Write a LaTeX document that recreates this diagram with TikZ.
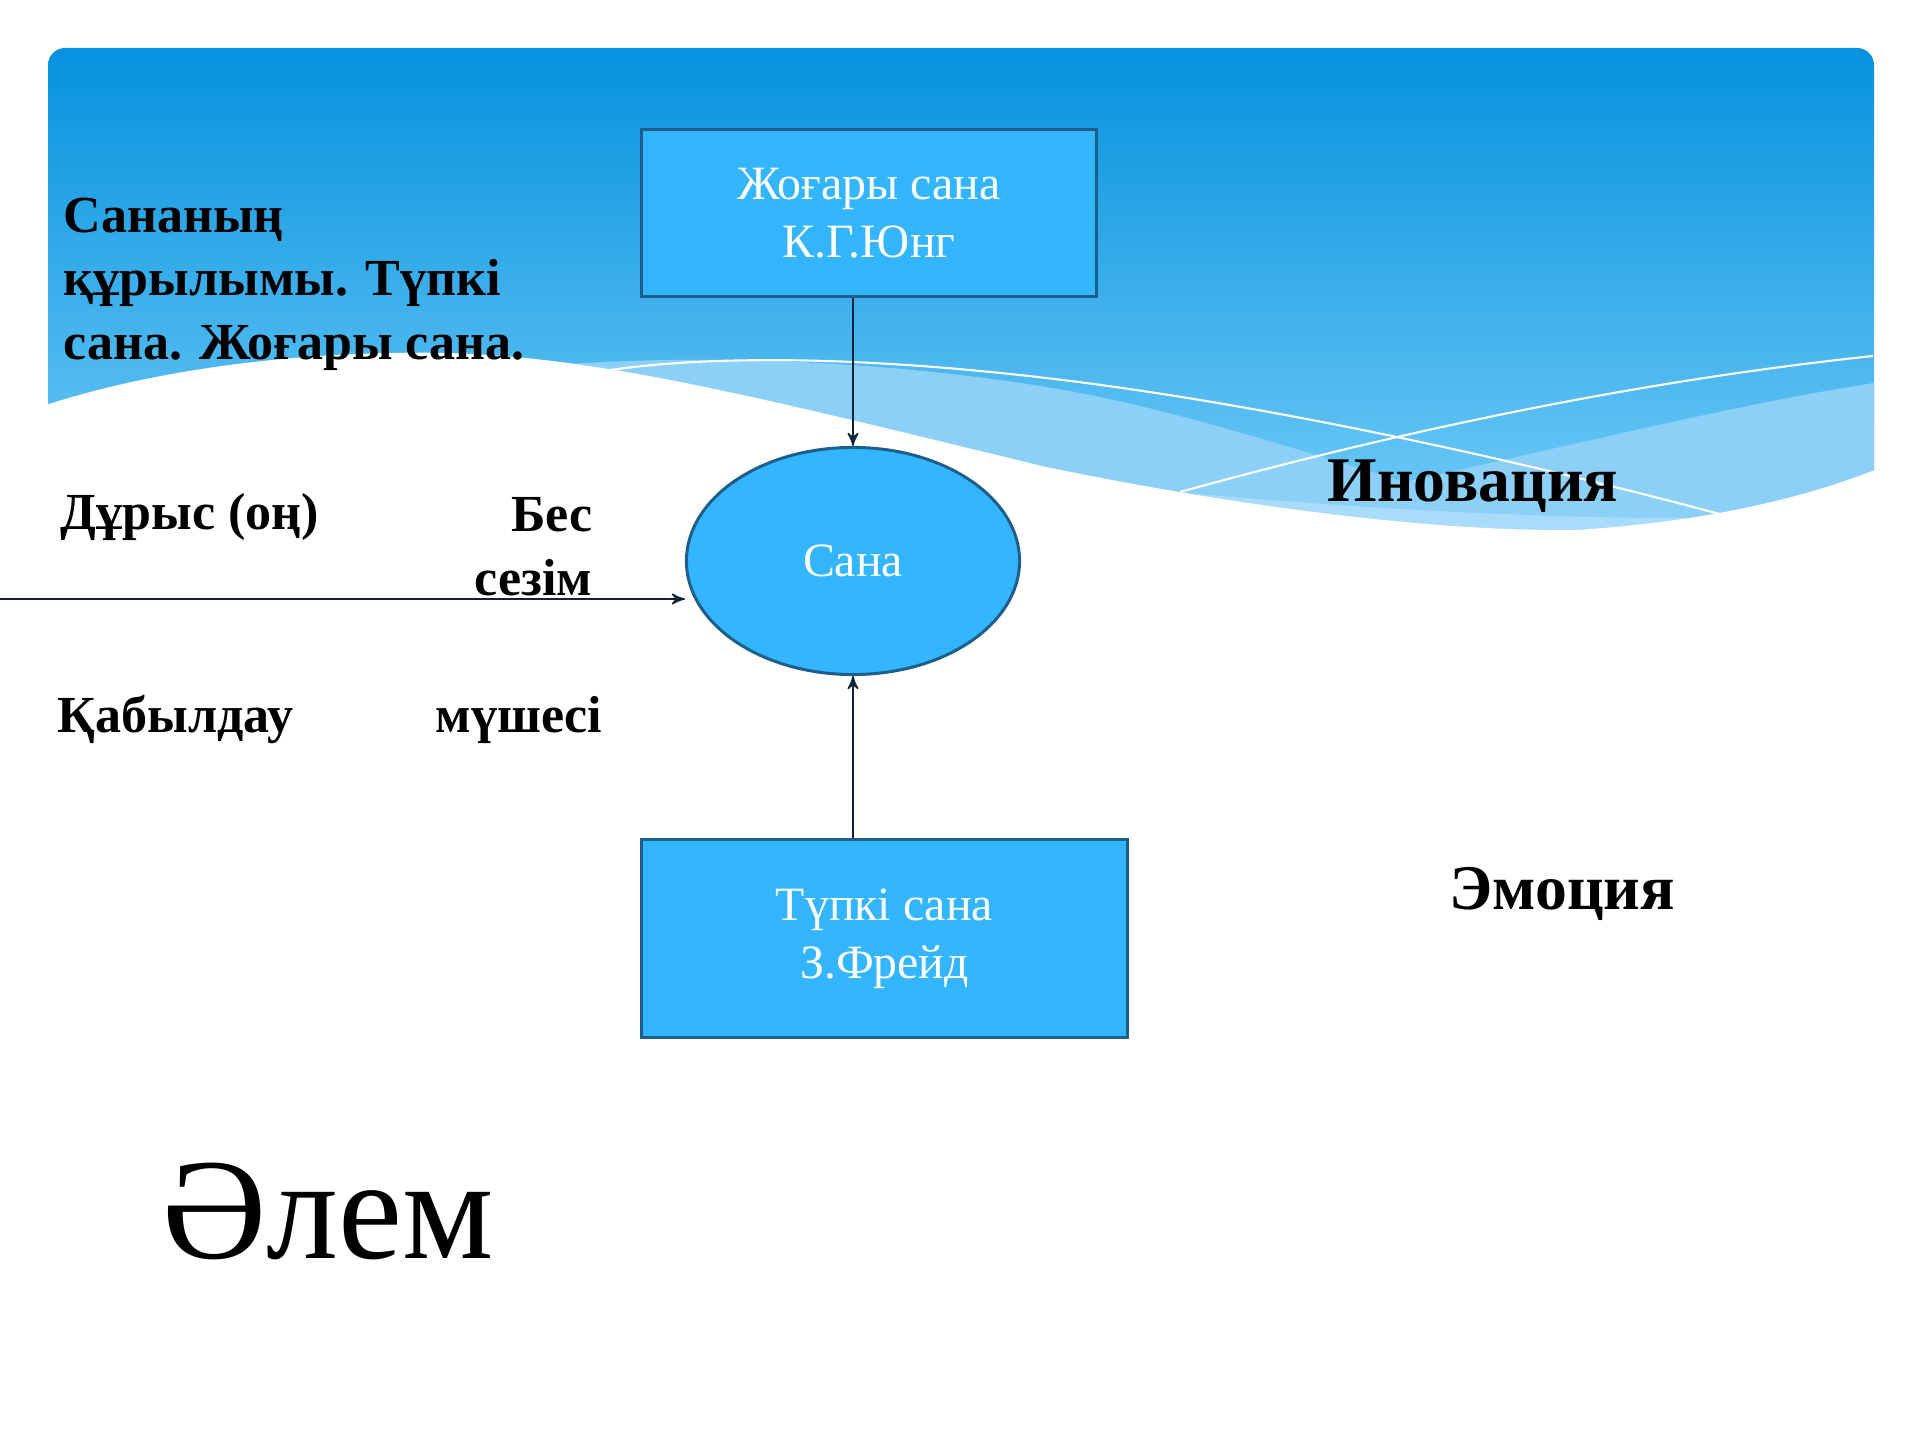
\documentclass[tikz,border=0pt]{standalone}
\usepackage{fontspec}
\setmainfont{Liberation Serif}
\usetikzlibrary{shapes, arrows}
\definecolor{skyfill}{HTML}{33B5FF}
\definecolor{skyline}{HTML}{1D5E8A}
\definecolor{navy}{HTML}{0F2436}
\definecolor{bandtop}{HTML}{0592DE}
\definecolor{bandbot}{HTML}{74CDF8}
\definecolor{wavea}{HTML}{8CD0F8}
\definecolor{waveb}{HTML}{A8DCFA}
\tikzset{block/.style={draw=skyline, fill=skyfill, line width=0.85pt, rectangle,
            text=white, align=center, font=\fontsize{13.6}{16.4}\selectfont},
         oval/.style={draw=skyline, fill=skyfill, line width=0.85pt, ellipse,
            minimum width=3.33cm, minimum height=2.27cm, text=white,
            font=\fontsize{13.6}{16.4}\selectfont},
         lbl/.style={inner sep=0pt, font=\bfseries\fontsize{14.8}{18.1}\selectfont}, % left side words
         biglbl/.style={inner sep=0pt, font=\bfseries\fontsize{18.1}{22}\selectfont},
         link/.style={->, draw=navy, line width=0.45pt}}

\begin{document}
\begin{tikzpicture}[x=0.01cm, y=-0.01cm, >=stealth']
        \useasboundingbox (0,0) rectangle (1920,1440);
        % blue band with the waves
        \shade[top color=bandtop, bottom color=bandbot, rounded corners=0.17cm] (48,48) rectangle (1874,545);
        \fill[wavea] (520,368) .. controls (650,355) and (850,355) .. (1046,387) .. controls (1200,412) and (1350,470) .. (1540,520) -- (1540,550) -- (520,550) -- cycle;
        \fill[wavea] (1874,383) .. controls (1700,410) and (1500,465) .. (1200,525) -- (1200,550) -- (1874,550) -- cycle;
        \fill[waveb] (1150,490) .. controls (1350,508) and (1550,520) .. (1730,518) -- (1730,550) -- (1150,550) -- cycle;
        \fill[white] (40,407) .. controls (150,370) and (300,350) .. (446,353) .. controls (600,357) and (750,395) .. (1046,467) .. controls (1230,505) and (1430,532) .. (1577,530) .. controls (1700,522) and (1800,500) .. (1880,468) -- (1880,560) -- (40,560) -- cycle;
        \draw[white, line width=0.6pt] (604,371) .. controls (700,356) and (850,355) .. (1046,378) .. controls (1250,402) and (1500,455) .. (1727,516);
        \draw[white, line width=0.6pt] (1180,492) .. controls (1350,445) and (1600,385) .. (1873,356);

        \node[block, minimum width=4.54cm, minimum height=1.66cm] (high) at (869,213) {Жоғары сана\\К.Г.Юнг};
        \node[oval] (sana) at (853,561) {Сана};
        \node[block, minimum width=4.85cm, minimum height=1.97cm] (deep) at (884.5,938.5) {Түпкі сана\\З.Фрейд};
        \coordinate (src) at (0,599);

        \draw[link] (high.south -| sana.north) -- (sana.north);
        \draw[link] (deep.north -| sana.south) -- (sana.south);
        \draw[link] (src) -- (src -| sana.west);

        \node[lbl, anchor=north west, align=left] (title) at (63,197) {Сананың\\құрылымы. Түпкі\\сана. Жоғары сана.};
        \node[lbl, anchor=base west] (right) at (60,530) {Дұрыс (оң)};
        \node[lbl, anchor=north east, align=right] (five) at (593,497) {Бес\\сезім};
        \node[lbl, anchor=base west] (percept) at (57,733) {Қабылдау};
        \node[lbl, anchor=base west] (organ) at (435,733) {мүшесі};
        \node[biglbl, anchor=base west] (innov) at (1327,502) {Иновация};
        \node[biglbl, anchor=base west] (emot) at (1449,910) {Эмоция};
        \node[inner sep=0pt, anchor=base west, font=\fontsize{41}{49}\selectfont] (world) at (162,1259) {Әлем};
    \end{tikzpicture}
\end{document}
